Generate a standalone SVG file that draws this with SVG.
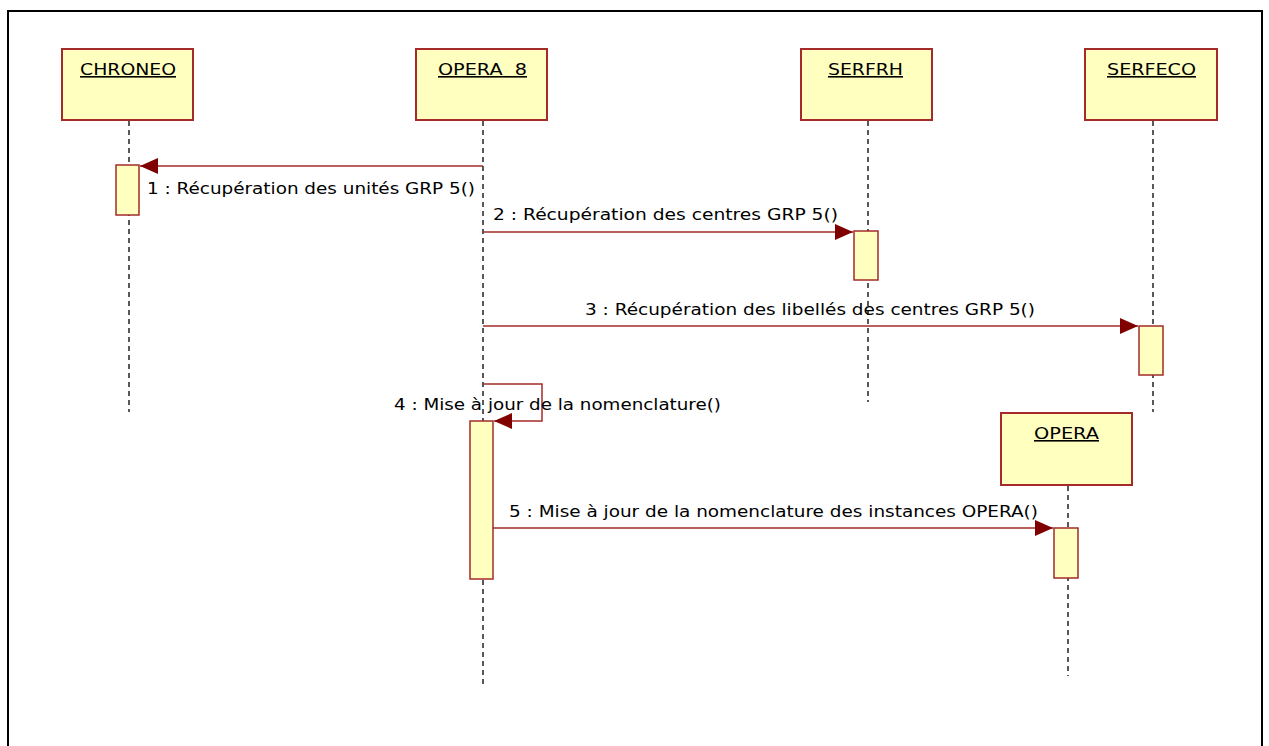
<svg xmlns="http://www.w3.org/2000/svg" width="1269" height="746" viewBox="0 0 1269 746">
<style>
.box{fill:#ffffc0;stroke:#a52a2a;stroke-width:2}
.act{fill:#ffffc0;stroke:#a52a2a;stroke-width:1.5}
.life{stroke:#000;stroke-width:1.3;stroke-dasharray:5 4;fill:none}
.msg{stroke:#a52a2a;stroke-width:1.5;fill:none}
.name{font-family:"DejaVu Sans",sans-serif;font-size:16px;fill:#000;text-decoration:underline}
.lbl{font-family:"DejaVu Sans",sans-serif;font-size:16px;fill:#000}
</style>
<defs>
<marker id="ah" markerWidth="18" markerHeight="16" refX="18" refY="8" orient="auto" markerUnits="userSpaceOnUse">
<path d="M0,0 L18,8 L0,16 Z" fill="#800000"/>
</marker>
</defs>
<rect x="0" y="0" width="1269" height="746" fill="#fff"/>
<path d="M8,760 V11 H1262 V760" fill="none" stroke="#000" stroke-width="2"/>

<g id="lifelines">
<line class="life" x1="129" y1="121" x2="129" y2="412"/>
<line class="life" x1="483" y1="121" x2="483" y2="686"/>
<line class="life" x1="868" y1="121" x2="868" y2="402"/>
<line class="life" x1="1153" y1="121" x2="1153" y2="412"/>
<line class="life" x1="1068" y1="486" x2="1068" y2="676"/>
</g>

<g id="CHRONEO">
<rect class="box" x="62" y="49" width="131" height="71"/>
<text class="name" x="80" y="75" textLength="96" lengthAdjust="spacingAndGlyphs">CHRONEO</text>
<rect class="act" x="116" y="165" width="23" height="50"/>
</g>
<g id="OPERA8">
<rect class="box" x="416" y="49" width="131" height="71"/>
<text class="name" x="438" y="75" xml:space="preserve" textLength="89" lengthAdjust="spacingAndGlyphs">OPERA  8</text>
<rect class="act" x="470" y="421" width="23" height="158"/>
</g>
<g id="SERFRH">
<rect class="box" x="801" y="49" width="131" height="71"/>
<text class="name" x="828" y="75" textLength="75" lengthAdjust="spacingAndGlyphs">SERFRH</text>
<rect class="act" x="854" y="231" width="24" height="49"/>
</g>
<g id="SERFECO">
<rect class="box" x="1085" y="49" width="132" height="71"/>
<text class="name" x="1107" y="75" textLength="89" lengthAdjust="spacingAndGlyphs">SERFECO</text>
<rect class="act" x="1139" y="326" width="24" height="49"/>
</g>
<g id="OPERA">
<rect class="box" x="1001" y="413" width="131" height="72"/>
<text class="name" x="1034" y="439" textLength="65" lengthAdjust="spacingAndGlyphs">OPERA</text>
<rect class="act" x="1054" y="528" width="24" height="50"/>
</g>

<g id="connectors">
<line class="msg" x1="483" y1="166" x2="140" y2="166" marker-end="url(#ah)"/>
<line class="msg" x1="483" y1="232" x2="853" y2="232" marker-end="url(#ah)"/>
<line class="msg" x1="483" y1="326" x2="1138" y2="326" marker-end="url(#ah)"/>
<path class="msg" d="M483,384 H542 V421 H494" marker-end="url(#ah)"/>
<line class="msg" x1="493" y1="528" x2="1053" y2="528" marker-end="url(#ah)"/>
</g>

<g id="labels">
<text class="lbl" x="147" y="194" textLength="328" lengthAdjust="spacingAndGlyphs">1 : Récupération des unités GRP 5()</text>
<text class="lbl" x="493" y="220" textLength="345" lengthAdjust="spacingAndGlyphs">2 : Récupération des centres GRP 5()</text>
<text class="lbl" x="585" y="315" textLength="450" lengthAdjust="spacingAndGlyphs">3 : Récupération des libellés des centres GRP 5()</text>
<text class="lbl" x="394" y="410" textLength="327" lengthAdjust="spacingAndGlyphs">4 : Mise à jour de la nomenclature()</text>
<text class="lbl" x="509" y="517" textLength="529" lengthAdjust="spacingAndGlyphs">5 : Mise à jour de la nomenclature des instances OPERA()</text>
</g>
</svg>
